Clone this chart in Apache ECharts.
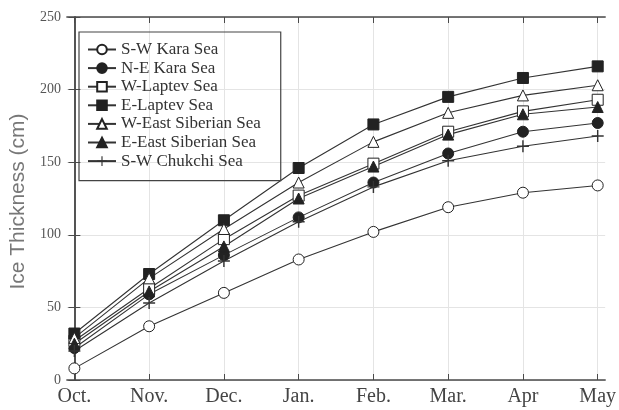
<!DOCTYPE html>
<html>
<head>
<meta charset="utf-8">
<script src="https://cdn.jsdelivr.net/npm/echarts@6/dist/echarts.min.js"></script>
<style>html,body{margin:0;padding:0;background:#fff}#c{width:619px;height:410px}</style>
</head>
<body>
<div id="c"></div>
<script>
const months = ['Oct.', 'Nov.', 'Dec.', 'Jan.', 'Feb.', 'Mar.', 'Apr', 'May'];
const yTicks = [0, 50, 100, 150, 200, 250];
const swKara   = [8, 37, 60, 83, 102, 119, 129, 134];
const neKara   = [22, 59, 86, 112, 136, 156, 171, 177];
const wLaptev  = [27, 63, 97, 127, 149, 171, 185, 193];
const eLaptev  = [32, 73, 110, 146, 176, 195, 208, 216];
const wEastSib = [29, 70, 104, 136, 164, 184, 196, 203];
const eEastSib = [25, 61, 92, 125, 147, 169, 183, 188];
const swChukchi = [20, 53, 82, 109, 133, 151, 161, 168];

const plusPath = 'path://M4.4,0h1.2v4.4h4.4v1.2h-4.4v4.4h-1.2v-4.4h-4.4v-1.2h4.4z';
const seriesDefs = [
  {name: 'S-W Kara Sea', data: swKara, symbol: 'circle', fill: '#fff', size: 11, bw: 1},
  {name: 'N-E Kara Sea', data: neKara, symbol: 'circle', fill: '#222', size: 11, bw: 1},
  {name: 'W-Laptev Sea', data: wLaptev, symbol: 'rect', fill: '#fff', size: 11, bw: 1},
  {name: 'E-Laptev Sea', data: eLaptev, symbol: 'rect', fill: '#222', size: 11, bw: 1},
  {name: 'W-East Siberian Sea', data: wEastSib, symbol: 'triangle', fill: '#fff', size: 11, bw: 1},
  {name: 'E-East Siberian Sea', data: eEastSib, symbol: 'triangle', fill: '#222', size: 11, bw: 1},
  {name: 'S-W Chukchi Sea', data: swChukchi, symbol: plusPath, fill: '#333', size: 12, bw: 0}
];

const monthIdx = months.map((m, i) => i);
const serif = '"Liberation Serif", "DejaVu Serif", serif';
const frameColor = '#4a4a4a';

const chart = echarts.init(document.getElementById('c'), null, {renderer: 'canvas'});
chart.setOption({
  animation: false,
  backgroundColor: '#fff',
  grid: {left: 65, right: 7, top: 17, bottom: 30},
  legend: {
    orient: 'vertical',
    left: 79, top: 32,
    padding: [9, 20, 11, 8],
    borderColor: '#444', borderWidth: 1.2,
    itemWidth: 28, itemHeight: 12, itemGap: 1.6,
    textStyle: {fontFamily: serif, fontSize: 17, color: '#333', lineHeight: 15},
    data: seriesDefs.map(s => s.name)
  },
  xAxis: [{
    type: 'value', min: -0.1, max: 7.1, splitNumber: 8,
    axisLine: {show: true, onZero: false, lineStyle: {color: frameColor, width: 1.5}},
    axisTick: {show: true, inside: true, length: 6, customValues: monthIdx, lineStyle: {color: frameColor}},
    axisLabel: {customValues: monthIdx, formatter: v => months[v] || '', fontFamily: serif, fontSize: 20, color: '#444', margin: 7},
    splitLine: {show: true, lineStyle: {color: '#e4e4e4', width: 1}}
  }, {
    type: 'value', min: -0.1, max: 7.1, position: 'top',
    axisLine: {show: true, onZero: false, lineStyle: {color: frameColor, width: 1.5}},
    axisTick: {show: true, inside: true, length: 6, customValues: monthIdx, lineStyle: {color: frameColor}},
    axisLabel: {show: false},
    splitLine: {show: false}
  }],
  yAxis: [{
    type: 'value', min: yTicks[0], max: yTicks[yTicks.length - 1], interval: 50,
    name: 'Ice Thickness (cm)', nameLocation: 'middle', nameGap: 36, nameRotate: 90,
    nameTextStyle: {fontFamily: '"Liberation Sans", Arial, sans-serif', fontSize: 21, color: '#777', padding: [0, 6, 0, 0]},
    axisLine: {show: true, lineStyle: {color: frameColor, width: 1.5}},
    axisTick: {show: true, inside: true, length: 6, lineStyle: {color: frameColor}},
    axisLabel: {fontFamily: serif, fontSize: 14, color: '#555', margin: 6},
    splitLine: {show: true, lineStyle: {color: '#e4e4e4', width: 1}}
  }, {
    type: 'value', min: yTicks[0], max: yTicks[yTicks.length - 1], interval: 50, position: 'right',
    axisLine: {show: true, lineStyle: {color: frameColor, width: 1.5}},
    axisTick: {show: true, inside: true, length: 6, lineStyle: {color: frameColor}},
    axisLabel: {show: false},
    splitLine: {show: false}
  }],
  series: seriesDefs.map(s => ({
    name: s.name,
    type: 'line',
    data: s.data.map((v, i) => [monthIdx[i], v]),
    symbol: s.symbol,
    symbolSize: s.size,
    showAllSymbol: true,
    lineStyle: {color: '#333', width: 1.1},
    itemStyle: {color: s.fill, borderColor: '#222', borderWidth: s.bw},
    z: 3
  }))
});
</script>
</body>
</html>
